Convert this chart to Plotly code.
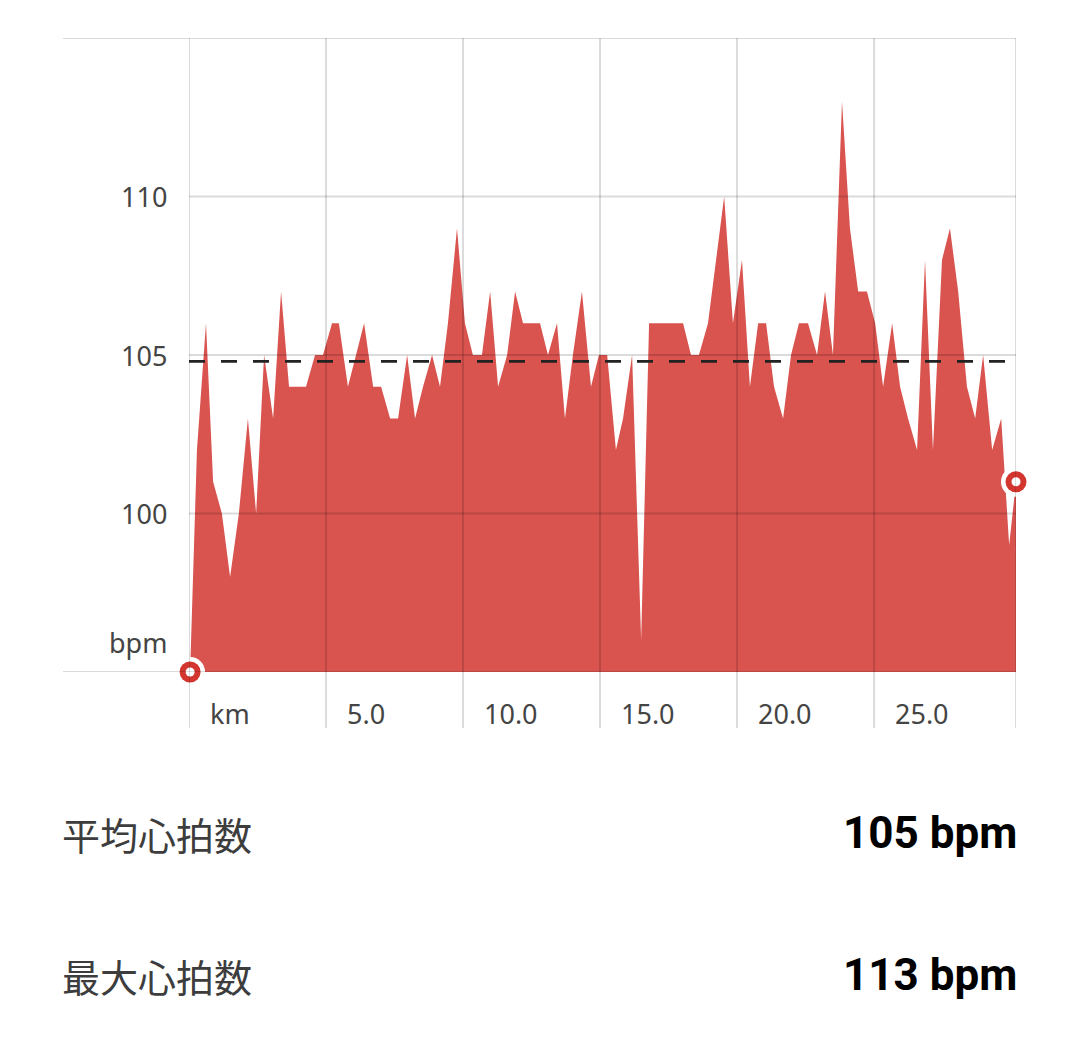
import plotly.graph_objects as go

# ---- data ----
distance_km = [
    0.04, 0.29, 0.62, 0.88, 1.20, 1.50, 1.82, 2.15, 2.45, 2.74,
    3.07, 3.36, 3.65, 3.98, 4.27, 4.60, 4.89, 5.22, 5.47, 5.80,
    6.09, 6.39, 6.72, 7.01, 7.34, 7.63, 7.96, 8.25, 8.54, 8.87,
    9.16, 9.45, 9.78, 10.07, 10.36, 10.69, 10.99, 11.28, 11.61, 11.90,
    12.19, 12.52, 12.81, 13.10, 13.43, 13.72, 14.01, 14.34, 14.67, 14.96,
    15.26, 15.58, 15.84, 16.17, 16.50, 16.79, 17.12, 17.41, 17.70, 18.03,
    18.32, 18.61, 18.94, 19.23, 19.53, 19.85, 20.18, 20.47, 20.77, 21.06,
    21.35, 21.68, 21.97, 22.26, 22.59, 22.92, 23.21, 23.50, 23.83, 24.12,
    24.42, 24.74, 25.04, 25.33, 25.66, 25.95, 26.24, 26.57, 26.86, 27.15,
    27.48, 27.77, 28.07, 28.39, 28.69, 28.98, 29.31, 29.64, 29.93, 30.18,
]
heart_rate_bpm = [
    95, 102, 106, 101, 100, 98, 100, 103, 100, 105,
    103, 107, 104, 104, 104, 105, 105, 106, 106, 104,
    105, 106, 104, 104, 103, 103, 105, 103, 104, 105,
    104, 106, 109, 106, 105, 105, 107, 104, 105, 107,
    106, 106, 106, 105, 106, 103, 105, 107, 104, 105,
    105, 102, 103, 105, 96, 106, 106, 106, 106, 106,
    105, 105, 106, 108, 110, 106, 108, 104, 106, 106,
    104, 103, 105, 106, 106, 105, 107, 105, 113, 109,
    107, 107, 106, 104, 106, 104, 103, 102, 108, 102,
    108, 109, 107, 104, 103, 105, 102, 103, 99, 101,
]
average_bpm_line = 104.8
x_tick_values = [0, 5, 10, 15, 20, 25]
x_tick_labels = ["km", "5.0", "10.0", "15.0", "20.0", "25.0"]
y_tick_values = [95, 100, 105, 110]
y_tick_labels = ["bpm", "100", "105", "110"]
y_range = [95, 115]
summary_labels = ["平均心拍数", "最大心拍数"]
summary_values = ["105 bpm", "113 bpm"]

# ---- style ----
FILL = "#d9534f"
RING = "#d3362f"
GRID = "rgba(0,0,0,0.14)"
LABEL = "#444444"
W, H = 1080, 1051
ML, MR, MT, MB = 189, 64, 38, 379
PW = W - ML - MR
PH = H - MT - MB
x_end = distance_km[-1]

fig = go.Figure()
fig.add_trace(go.Scatter(
    x=distance_km, y=heart_rate_bpm, mode="lines",
    line=dict(width=0, color=FILL), fill="tozeroy", fillcolor=FILL,
    hoverinfo="skip", showlegend=False,
))

# endpoint markers (halo, ring, centre)
ends_x = [distance_km[0], distance_km[-1]]
ends_y = [heart_rate_bpm[0], heart_rate_bpm[-1]]
for size, col in [(30, "white"), (21, RING), (9, "white")]:
    fig.add_trace(go.Scatter(
        x=ends_x, y=ends_y, mode="markers", cliponaxis=False,
        marker=dict(size=size, color=col, line=dict(width=0)),
        hoverinfo="skip", showlegend=False,
    ))

shapes = []
left_ext = -(ML - 63) / PW
below_ext = -(728 - (H - MB)) / PH
# vertical grid lines at x ticks and the right edge
for xv in x_tick_values + [x_end]:
    shapes.append(dict(type="line", xref="x", yref="paper", x0=xv, x1=xv,
                       y0=below_ext, y1=1, line=dict(color=GRID, width=2),
                       layer="above"))
# horizontal grid lines
for yv in y_tick_values[1:]:
    shapes.append(dict(type="line", xref="paper", yref="y", x0=0, x1=1,
                       y0=yv, y1=yv, line=dict(color=GRID, width=2),
                       layer="above"))
for yv in [y_range[0], y_range[1]]:
    shapes.append(dict(type="line", xref="paper", yref="y", x0=left_ext, x1=1,
                       y0=yv, y1=yv, line=dict(color=GRID, width=2),
                       layer="above"))
# average dashed line
shapes.append(dict(type="line", xref="paper", yref="y", x0=0, x1=1,
                   y0=average_bpm_line, y1=average_bpm_line,
                   line=dict(color="#222222", width=2.6, dash="16px,16px"),
                   layer="above"))

annotations = []
tick_font = dict(family="Noto Sans, Lato, sans-serif", size=27, color=LABEL)
for yv, lab in zip(y_tick_values, y_tick_labels):
    annotations.append(dict(
        xref="paper", yref="y", x=0, y=yv, text=lab, showarrow=False,
        xanchor="right", yanchor="middle", xshift=-20,
        yshift=30 if lab == "bpm" else 0, font=tick_font))
for xv, lab in zip(x_tick_values, x_tick_labels):
    annotations.append(dict(
        xref="x", yref="paper", x=xv, y=-(713 - (H - MB)) / PH, text=lab,
        showarrow=False, xanchor="left", yanchor="middle", xshift=19,
        font=tick_font))

row_y = [833, 975]
for yy, lab, val in zip(row_y, summary_labels, summary_values):
    yp = -(yy - (H - MB)) / PH
    annotations.append(dict(
        xref="paper", yref="paper", x=-(ML - 63) / PW, y=yp, text=lab,
        showarrow=False, xanchor="left", yanchor="middle", xshift=-3,
        font=dict(family="Noto Sans CJK JP, sans-serif", size=38, color="#3d3d3d")))
    annotations.append(dict(
        xref="paper", yref="paper", x=1, y=yp, text="<b>" + val + "</b>",
        showarrow=False, xanchor="right", yanchor="middle", xshift=3,
        font=dict(family="Roboto, sans-serif", size=44, color="#000000")))

fig.update_layout(
    width=W, height=H, autosize=False,
    margin=dict(l=ML, r=MR, t=MT, b=MB, pad=0),
    paper_bgcolor="white", plot_bgcolor="white",
    xaxis=dict(range=[0, x_end], showgrid=False, zeroline=False,
               showticklabels=False, showline=False, fixedrange=True),
    yaxis=dict(range=y_range, showgrid=False, zeroline=False,
               showticklabels=False, showline=False, fixedrange=True),
    shapes=shapes, annotations=annotations, showlegend=False,
)

fig.write_html("out.html", config={"displayModeBar": False},
               post_script="document.body.style.margin='0';document.body.style.overflow='hidden';")
